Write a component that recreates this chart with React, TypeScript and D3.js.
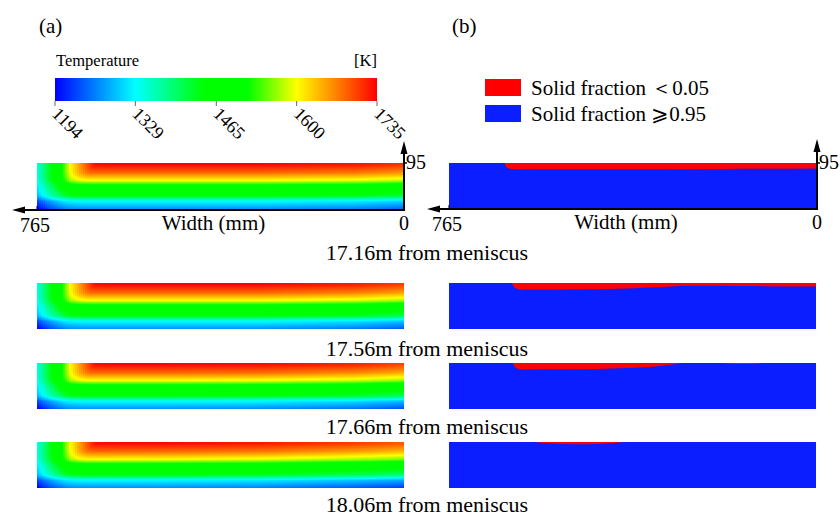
import * as d3 from "d3";

// colour bar
const TICKS = [1194, 1329, 1465, 1600, 1735];
const COLOR_T = [1194, 1329, 1444, 1518, 1600, 1735];
const COLOR_C = ["#0000ff", "#00ffff", "#00ff00", "#00ff00", "#ffff00", "#ff0000"];

// temperature through the thickness far from the narrow face (z = mm from wide face)
const THICK_Z = [0, 16, 28, 50, 59, 75, 91, 95];
const THICK_T = [1270, 1329, 1444, 1518, 1600, 1680, 1730, 1735];
// temperature along the centre plane from the narrow face (d = mm)
const NARROW_D = [0, 31, 52, 69, 100, 121, 160, 765];
const NARROW_T = [1340, 1444, 1518, 1600, 1680, 1730, 1735, 1735];

const SECTIONS = ["17.16m from meniscus", "17.56m from meniscus", "17.66m from meniscus", "18.06m from meniscus"];
// core temperature along the width (w = mm from centre) for each section
const CORE_W = [0, 100, 300, 500, 765];
const CORE_T = [
  [1712, 1726, 1735, 1735, 1735],
  [1705, 1722, 1735, 1735, 1735],
  [1700, 1718, 1732, 1735, 1735],
  [1690, 1705, 1725, 1732, 1735],
];

// liquid core (solid fraction < 0.05): depth below centre plane (mm) vs width position (mm)
const LIQ_W = [
  [[649, 647, 642, 636, 600, 400, 200, 0]],
  [[634, 631, 626, 618, 540, 410, 347, 300, 270, 200, 139, 0]],
  [[632, 629, 624, 617, 500, 410, 341, 300, 279], [195, 170, 150, 130, 112]],
  [[586, 560, 520, 490, 460, 430, 399]],
];
const LIQ_D = [
  [[0, 6, 10.5, 12.5, 13, 13, 12.5, 11.5]],
  [[0, 6, 11, 13.5, 13.5, 12, 9.5, 7, 5.8, 5.5, 6.3, 7]],
  [[0, 6, 11, 13.3, 13, 11, 7.8, 3, 0], [0, 1.8, 2.2, 1.8, 0]],
  [[0, 2.5, 4.3, 4.8, 4.3, 2.8, 0]],
];

const FONT = "'Liberation Serif', 'DejaVu Serif', serif";
const W = 840, H = 516;
const AX = 37, BX = 449, PW = 367, PH = 46;
const TOPS = [163, 283, 363, 442];
const TITLE_Y = [260, 356, 434, 512];
const RED = "#ff0000", BLUE = "#0a1eff";

const color = d3.scaleLinear<string>().domain(COLOR_T).range(COLOR_C).clamp(true);
const thickT = d3.scaleLinear().domain(THICK_Z).range(THICK_T).clamp(true);
const narrowT = d3.scaleLinear().domain(NARROW_D).range(NARROW_T).clamp(true);

function TempPanel({ idx }: { idx: number }) {
  const y0 = TOPS[idx];
  const x = d3.scaleLinear().domain([765, 0]).range([AX, AX + PW]);
  const z = d3.scaleLinear().domain([0, 95]).range([y0 + PH, y0]);
  const core = d3.scaleLinear().domain(CORE_W).range(CORE_T[idx]).clamp(true);
  const cells: JSX.Element[] = [];
  let px = 0;
  while (px < PW) {
    const cw = Math.min(px < 90 ? 2 : 4, PW - px);
    const w = x.invert(AX + px + cw / 2);
    const cs = 1735 - narrowT(765 - w);
    for (let py = 0; py < PH; py++) {
      const cb = 1735 - thickT(z.invert(y0 + py + 0.5));
      const t = core(w) - Math.cbrt(cb * cb * cb + cs * cs * cs);
      cells.push(<rect key={px + "_" + py} x={AX + px} y={y0 + py} width={cw + 0.4} height={1.4} fill={color(t)} />);
    }
    px += cw;
  }
  return <g shapeRendering="crispEdges">{cells}</g>;
}

function SolidPanel({ idx }: { idx: number }) {
  const y0 = TOPS[idx];
  const x = d3.scaleLinear().domain([765, 0]).range([BX, BX + PW]);
  const y = d3.scaleLinear().domain([0, 95]).range([y0, y0 + PH]);
  const area = d3.area<number>().curve(d3.curveMonotoneX);
  return (
    <g>
      <rect x={BX} y={y0} width={PW} height={PH} fill={BLUE} />
      {LIQ_W[idx].map((ws, k) => {
        const ds = LIQ_D[idx][k];
        const a = area.x((_d, i) => x(ws[i])).y0(y(0)).y1((_d, i) => y(ds[i]));
        return <path key={k} d={a(ws) || ""} fill={RED} />;
      })}
    </g>
  );
}

function Axes({ x0, right, base, leftTip, upTip }: { x0: number; right: number; base: number; leftTip: number; upTip: number }) {
  return (
    <g fill="#000" stroke="#000">
      <line x1={right} y1={base} x2={leftTip + 10} y2={base} strokeWidth={2} />
      <line x1={right} y1={base + 1} x2={right} y2={upTip + 10} strokeWidth={2} />
      <path d={`M${leftTip},${base} L${leftTip + 13},${base - 3.5} L${leftTip + 13},${base + 3.5}Z`} stroke="none" />
      <path d={`M${right},${upTip} L${right - 3.5},${upTip + 13} L${right + 3.5},${upTip + 13}Z`} stroke="none" />
      <line x1={x0} y1={base} x2={x0} y2={base - 4} strokeWidth={1} />
      <line x1={right} y1={163} x2={right + 3} y2={163} strokeWidth={1.5} />
      <g stroke="none" fontFamily={FONT} fontSize={20}>
        <text x={x0 - 2} y={base + 22} textAnchor="middle">765</text>
        <text x={right} y={base + 20} textAnchor="middle">0</text>
        <text x={right + 2} y={169}>95</text>
        <text x={(x0 + right) / 2 - 7} y={base + 20} textAnchor="middle" fontSize={21}>Width (mm)</text>
      </g>
    </g>
  );
}

export default function App() {
  const cb = d3.scaleLinear().domain([1194, 1735]).range([55, 377]);
  return (
    <svg width={W} height={H} viewBox={`0 0 ${W} ${H}`} style={{ position: "absolute", left: 0, top: 0, background: "#fff" }}>
      <defs>
        <linearGradient id="cbar" x1="0" x2="1" y1="0" y2="0">
          {COLOR_T.map((t, i) => (
            <stop key={i} offset={(cb(t) - 55) / 322} stopColor={COLOR_C[i]} />
          ))}
        </linearGradient>
      </defs>
      <rect width={W} height={H} fill="#fff" />
      <text x={39} y={33} fontFamily={FONT} fontSize={21}>(a)</text>
      <text x={452} y={33} fontFamily={FONT} fontSize={21}>(b)</text>

      {/* colour bar */}
      <text x={56} y={66} fontFamily={FONT} fontSize={16.5}>Temperature</text>
      <text x={377} y={66} fontFamily={FONT} fontSize={16.5} textAnchor="end">[K]</text>
      <rect x={cb(1194)} y={78} width={cb(1735) - cb(1194)} height={23} fill="url(#cbar)" />
      {TICKS.map((t) => (
        <g key={t}>
          <line x1={cb(t)} x2={cb(t)} y1={101} y2={106} stroke="#666" strokeWidth={1} />
          <text transform={`translate(${cb(t) - 4},${115}) rotate(45)`} fontFamily={FONT} fontSize={18}>{t}</text>
        </g>
      ))}

      {/* legend */}
      <rect x={485} y={79} width={36} height={17} fill={RED} />
      <rect x={485} y={105} width={36} height={17} fill={BLUE} />
      <text x={531} y={95} fontFamily={FONT} fontSize={21}>Solid fraction ＜0.05</text>
      <text x={531} y={121} fontFamily={FONT} fontSize={21}>Solid fraction ⩾0.95</text>

      {SECTIONS.map((s, i) => (
        <g key={s}>
          <TempPanel idx={i} />
          <SolidPanel idx={i} />
          <text x={427} y={TITLE_Y[i]} fontFamily={FONT} fontSize={22} textAnchor="middle">{s}</text>
        </g>
      ))}

      <Axes x0={AX} right={AX + PW} base={TOPS[0] + PH + 1} leftTip={12} upTip={141} />
      <Axes x0={BX} right={BX + PW + 1} base={TOPS[0] + PH} leftTip={427} upTip={139} />
    </svg>
  );
}
